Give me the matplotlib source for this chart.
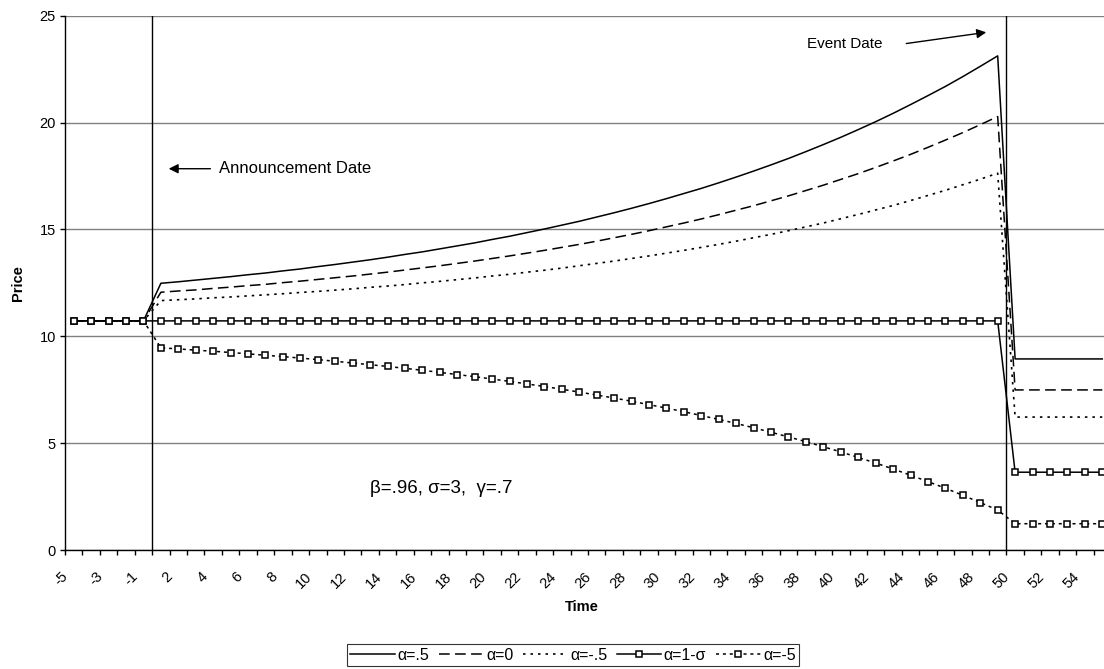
import numpy as np
import matplotlib.pyplot as plt
from matplotlib.transforms import ScaledTranslation

plt.rcParams['font.family'] = ['Liberation Sans', 'DejaVu Sans']

# categories: -5..-1 then 1..55 (no zero)
categories = ['-5', '-4', '-3', '-2', '-1'] + [str(i) for i in range(1, 56)]

pre = [10.72] * 5

alpha_half = pre + [
    12.48, 12.55, 12.63, 12.71, 12.79, 12.88, 12.96, 13.06, 13.15, 13.26,
    13.36, 13.47, 13.58, 13.70, 13.83, 13.95, 14.09, 14.23, 14.37, 14.53,
    14.68, 14.85, 15.02, 15.20, 15.38, 15.58, 15.78, 15.99, 16.21, 16.44,
    16.68, 16.92, 17.18, 17.45, 17.73, 18.02, 18.32, 18.64, 18.97, 19.31,
    19.67, 20.04, 20.43, 20.84, 21.26, 21.69, 22.15, 22.63, 23.12,
] + [8.94] * 6

alpha_zero = pre + [
    12.06, 12.12, 12.17, 12.24, 12.30, 12.37, 12.43, 12.51, 12.58, 12.66,
    12.74, 12.82, 12.91, 13.00, 13.10, 13.20, 13.30, 13.41, 13.52, 13.64,
    13.76, 13.89, 14.02, 14.16, 14.30, 14.45, 14.61, 14.77, 14.94, 15.12,
    15.30, 15.49, 15.69, 15.90, 16.11, 16.34, 16.57, 16.82, 17.07, 17.34,
    17.61, 17.90, 18.20, 18.51, 18.84, 19.18, 19.53, 19.90, 20.28,
] + [7.49] * 6

alpha_mhalf = pre + [
    11.67, 11.71, 11.75, 11.80, 11.84, 11.89, 11.94, 11.99, 12.05, 12.10,
    12.16, 12.22, 12.29, 12.35, 12.42, 12.50, 12.57, 12.65, 12.73, 12.82,
    12.90, 13.00, 13.09, 13.19, 13.30, 13.41, 13.52, 13.64, 13.76, 13.89,
    14.02, 14.16, 14.30, 14.45, 14.61, 14.77, 14.94, 15.12, 15.30, 15.50,
    15.70, 15.91, 16.12, 16.35, 16.59, 16.83, 17.09, 17.35, 17.63,
] + [6.22] * 6

alpha_1ms = [10.72] * 54 + [3.64] * 6

alpha_m5 = pre + [
    9.46, 9.41, 9.35, 9.30, 9.24, 9.18, 9.11, 9.05, 8.98, 8.91,
    8.83, 8.75, 8.67, 8.59, 8.50, 8.41, 8.31, 8.21, 8.11, 8.00,
    7.89, 7.77, 7.65, 7.52, 7.39, 7.25, 7.11, 6.96, 6.80, 6.64,
    6.47, 6.29, 6.11, 5.92, 5.72, 5.51, 5.29, 5.07, 4.83, 4.59,
    4.33, 4.07, 3.79, 3.50, 3.20, 2.89, 2.56, 2.22, 1.87,
] + [1.23] * 6

yticks = [0, 5, 10, 15, 20, 25]

fig = plt.figure(figsize=(11.04, 6.69), dpi=100)
ax = fig.add_axes([65 / 1104, 119 / 669, 1046 / 1104, 534.3 / 669])

x = np.arange(len(categories)) + 0.5

ax.plot(x, alpha_half, color='black', lw=1.1, label='α=.5')
ax.plot(x, alpha_zero, color='black', lw=1.1, dashes=(7, 3.5), label='α=0')
ax.plot(x, alpha_mhalf, color='black', lw=1.2, dashes=(1.5, 3), label='α=-.5')
ax.plot(x, alpha_1ms, color='black', lw=1.1, marker='s', ms=4.3,
        mfc='white', mec='black', mew=1.1, label='α=1-σ')
ax.plot(x, alpha_m5, color='black', lw=1.1, dashes=(2, 2.5), marker='s', ms=4.3,
        mfc='white', mec='black', mew=1.1, label='α=-5')

# announcement / event date lines
ax.axvline(5, color='black', lw=1.0)
ax.axvline(54, color='black', lw=1.0)

ax.set_xlim(0, 60)
ax.set_ylim(0, 25)
ax.set_yticks(yticks)
ax.yaxis.grid(True, color='#808080', lw=1.0)
ax.set_axisbelow(True)
for s in ['top', 'right']:
    ax.spines[s].set_visible(False)
ax.spines['left'].set_linewidth(1.0)
ax.spines['bottom'].set_linewidth(1.0)
ax.tick_params(axis='y', direction='out', length=3.6, width=1.0, labelsize=10.5, pad=3)

# ticks between categories, labels at every other category centre
ax.set_xticks(np.arange(0, 61))
ax.set_xticklabels([])
ax.tick_params(axis='x', which='major', direction='out', length=3.6, width=1.0)
ax.set_xticks(x[::2], categories[::2], minor=True)
ax.tick_params(axis='x', which='minor', length=0, pad=14, labelsize=10.5)
for lab in ax.get_xticklabels(minor=True):
    lab.set_rotation(45)
    lab.set_ha('right')
    lab.set_va('top')
    lab.set_transform(lab.get_transform() + ScaledTranslation(-3 / 100, 0, fig.dpi_scale_trans))

fig.text(582 / 1104, 1 - 607 / 669, 'Time', ha='center', va='center',
         fontsize=10.5, fontweight='bold')
fig.text(18 / 1104, 1 - 283 / 669, 'Price', ha='center', va='center',
         fontsize=10.5, fontweight='bold', rotation=90)

ax.annotate('', xy=(5.79, 17.84), xytext=(8.5, 17.84),
            arrowprops=dict(arrowstyle='-|>', color='black', lw=1.0, mutation_scale=14))
ax.text(8.83, 17.84, 'Announcement Date', ha='left', va='center', fontsize=12)

ax.annotate('', xy=(53.0, 24.24), xytext=(48.1, 23.68),
            arrowprops=dict(arrowstyle='-|>', color='black', lw=1.0, mutation_scale=14))
ax.text(46.87, 23.68, 'Event Date', ha='right', va='center', fontsize=11)

ax.text(17.5, 2.9, 'β=.96, σ=3,  γ=.7', ha='left', va='center', fontsize=13.5)

leg = fig.legend(loc='center', bbox_to_anchor=(573 / 1104, 1 - 655 / 669), ncol=5,
                 fontsize=11.5, frameon=True, fancybox=False, edgecolor='black',
                 handlelength=2.8, handletextpad=0.15, columnspacing=0.6,
                 borderpad=0.2, borderaxespad=0)
leg.get_frame().set_linewidth(0.8)

fig.savefig('out.png', dpi=100)
